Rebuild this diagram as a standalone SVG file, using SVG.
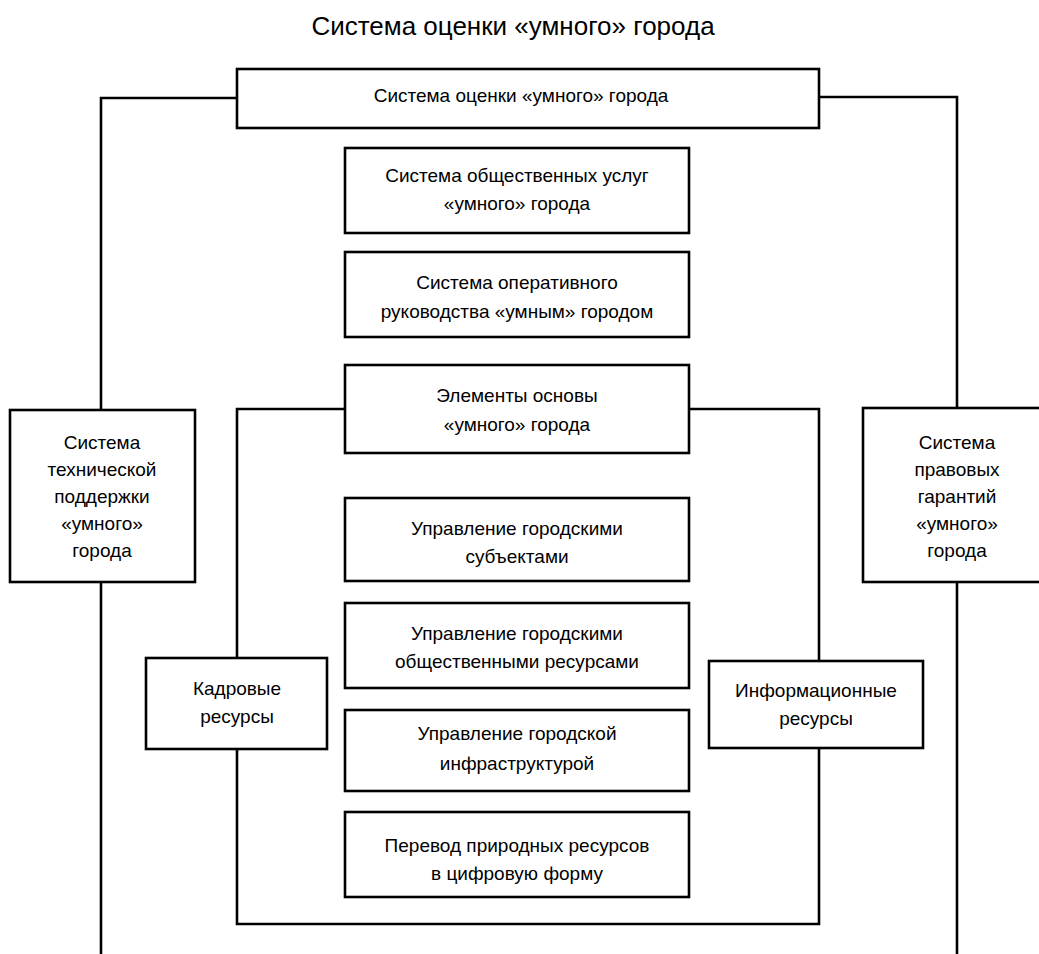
<svg xmlns="http://www.w3.org/2000/svg" width="1039" height="954" viewBox="0 0 1039 954">
<style>
.box{fill:#fff;stroke:#000;stroke-width:2.6}
.ln{fill:none;stroke:#000;stroke-width:2.6}
text{font-family:"Liberation Sans",Arial,sans-serif;font-size:19px;fill:#000;text-anchor:middle}
.title{font-size:26px}
</style>
<rect width="1039" height="954" fill="#fff"/>
<text class="title" x="513" y="35">Система оценки «умного» города</text>
<g id="connectors">
<path class="ln" d="M237,98 H101 V410"/>
<path class="ln" d="M101,582 V960"/>
<path class="ln" d="M819,97 H957 V408"/>
<path class="ln" d="M957,582 V960"/>
<path class="ln" d="M345,409 H237 V658"/>
<path class="ln" d="M237,749 V924 H819 V748"/>
<path class="ln" d="M819,661 V409 H689"/>
</g>
<g id="n_top"><rect class="box" x="237" y="69" width="582" height="59"/><text x="521" y="102">Система оценки «умного» города</text></g>
<g id="n_services"><rect class="box" x="345" y="148" width="344" height="85"/><text x="517" y="182">Система общественных услуг</text><text x="517" y="210">«умного» города</text></g>
<g id="n_operative"><rect class="box" x="345" y="252" width="344" height="85"/><text x="517" y="289">Система оперативного</text><text x="517" y="318">руководства «умным» городом</text></g>
<g id="n_elements"><rect class="box" x="345" y="365" width="344" height="88"/><text x="517" y="402">Элементы основы</text><text x="517" y="431">«умного» города</text></g>
<g id="n_subjects"><rect class="box" x="345" y="498" width="344" height="83"/><text x="517" y="535">Управление городскими</text><text x="517" y="563">субъектами</text></g>
<g id="n_public"><rect class="box" x="345" y="603" width="344" height="85"/><text x="517" y="640">Управление городскими</text><text x="517" y="668">общественными ресурсами</text></g>
<g id="n_infra"><rect class="box" x="345" y="710" width="344" height="81"/><text x="517" y="740">Управление городской</text><text x="517" y="770">инфраструктурой</text></g>
<g id="n_nature"><rect class="box" x="345" y="812" width="344" height="85"/><text x="517" y="852">Перевод природных ресурсов</text><text x="517" y="880">в цифровую форму</text></g>
<g id="n_tech"><rect class="box" x="10" y="410" width="185" height="172"/><text x="102" y="449">Система</text><text x="102" y="476">технической</text><text x="102" y="503">поддержки</text><text x="102" y="530">«умного»</text><text x="102" y="557">города</text></g>
<g id="n_legal"><rect class="box" x="863" y="408" width="190" height="174"/><text x="957" y="449">Система</text><text x="957" y="476">правовых</text><text x="957" y="503">гарантий</text><text x="957" y="530">«умного»</text><text x="957" y="557">города</text></g>
<g id="n_hr"><rect class="box" x="146" y="658" width="181" height="91"/><text x="237" y="695">Кадровые</text><text x="237" y="723">ресурсы</text></g>
<g id="n_info"><rect class="box" x="709" y="661" width="214" height="87"/><text x="816" y="697">Информационные</text><text x="816" y="725">ресурсы</text></g>
</svg>
